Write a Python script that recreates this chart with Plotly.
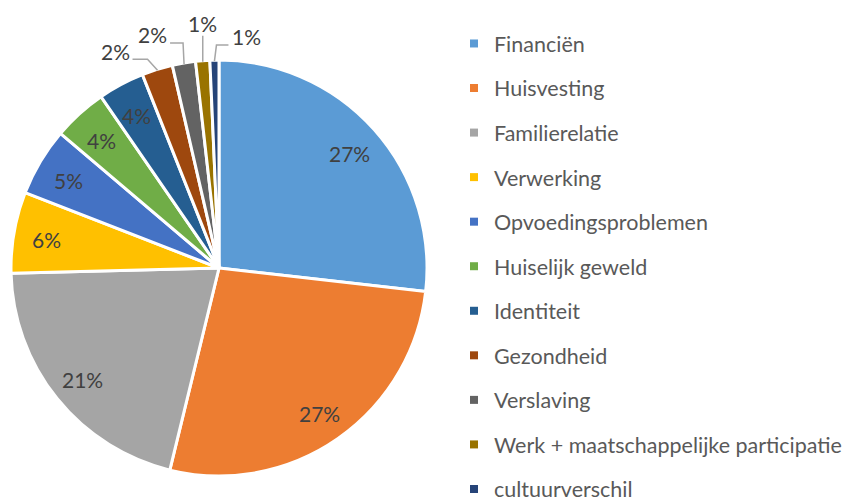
import math
import plotly.graph_objects as go

categories = ["Financiën", "Huisvesting", "Familierelatie", "Verwerking",
              "Opvoedingsproblemen", "Huiselijk geweld", "Identiteit",
              "Gezondheid", "Verslaving", "Werk + maatschappelijke participatie",
              "cultuurverschil"]
values = [26.8, 27.0, 20.8, 6.3, 5.3, 4.2, 3.6, 2.4, 1.8, 1.1, 0.7]
colors = ["#5B9BD5", "#ED7D31", "#A5A5A5", "#FFC000", "#4472C4", "#70AD47",
          "#255E91", "#9E480E", "#636363", "#997300", "#264478"]
outside = [False] * 7 + [True] * 4

# leader-line styling for outside labels: (elbow dx, elbow dy, horizontal run, label side)
leader_style = [(-10, -11, -15, "left"), (-1, -21, -13, "left"),
                (0, -26, 0, "top"), (2, -16, 12, "right")]

W, H = 859, 502
OFF = 8                      # page body margin
cx, cy, R = 219, 268, 208    # page pixel geometry of the pie
FONT = "Lato, Calibri, sans-serif"
TXT = "#404040"


def fx(px):
    return (px - OFF) / W


def fy(py):
    return 1 - (py - OFF) / H


fig = go.Figure()
fig.add_trace(go.Pie(
    labels=categories, values=values, sort=False, direction="clockwise",
    rotation=0, marker=dict(colors=colors, line=dict(color="white", width=3)),
    textinfo="none",
    domain=dict(x=[fx(cx - R), fx(cx + R)], y=[fy(cy + R), fy(cy - R)]),
    showlegend=False, hoverinfo="label+percent",
))

total = sum(values)
cum = 0
k = 0
for v, o in zip(values, outside):
    mid = (cum + v / 2) / total * 2 * math.pi
    cum += v
    pct = f"{round(v / total * 100)}%"
    if not o:
        r = 0.84 * R
        fig.add_annotation(x=fx(cx + r * math.sin(mid)), y=fy(cy - r * math.cos(mid) + 2),
                           xref="paper", yref="paper", text=pct, showarrow=False,
                           xanchor="center", yanchor="middle",
                           font=dict(family=FONT, size=21, color=TXT))
        continue
    ex = cx + (R - 1) * math.sin(mid)
    ey = cy - (R - 1) * math.cos(mid)
    edx, edy, run, side = leader_style[k]
    k += 1
    bx, by = ex + edx, ey + edy
    tx, ty = bx + run, by
    fig.add_shape(type="path", xref="paper", yref="paper",
                  path=f"M {fx(ex)} {fy(ey)} L {fx(bx)} {fy(by)} L {fx(tx)} {fy(ty)}",
                  line=dict(color="#A6A6A6", width=1.5))
    if side == "left":
        ann = dict(x=fx(tx - 1), y=fy(ty - 8), xanchor="right", yanchor="middle")
    elif side == "right":
        ann = dict(x=fx(tx + 2), y=fy(ty - 9), xanchor="left", yanchor="middle")
    else:
        ann = dict(x=fx(tx), y=fy(ty + 2), xanchor="center", yanchor="bottom")
    fig.add_annotation(xref="paper", yref="paper", text=pct, showarrow=False,
                       font=dict(family=FONT, size=21, color=TXT), **ann)

# legend entries
for i, (c, col) in enumerate(zip(categories, colors)):
    fig.add_trace(go.Scatter(x=[None], y=[None], mode="markers", name=c,
                             legendgroup=f"g{i}",
                             marker=dict(symbol="square", size=8, color=col)))

fig.update_layout(
    width=W, height=H, margin=dict(l=0, r=0, t=0, b=0),
    paper_bgcolor="white", plot_bgcolor="white",
    xaxis=dict(visible=False), yaxis=dict(visible=False),
    legend=dict(x=446 / W, y=1 - 26 / H, xanchor="left", yanchor="top",
                font=dict(family=FONT, size=21.5, color="#595959"),
                tracegroupgap=13.6, itemwidth=30, maxheight=700,
                bgcolor="rgba(0,0,0,0)"),
)
fig.write_html("out.html")
